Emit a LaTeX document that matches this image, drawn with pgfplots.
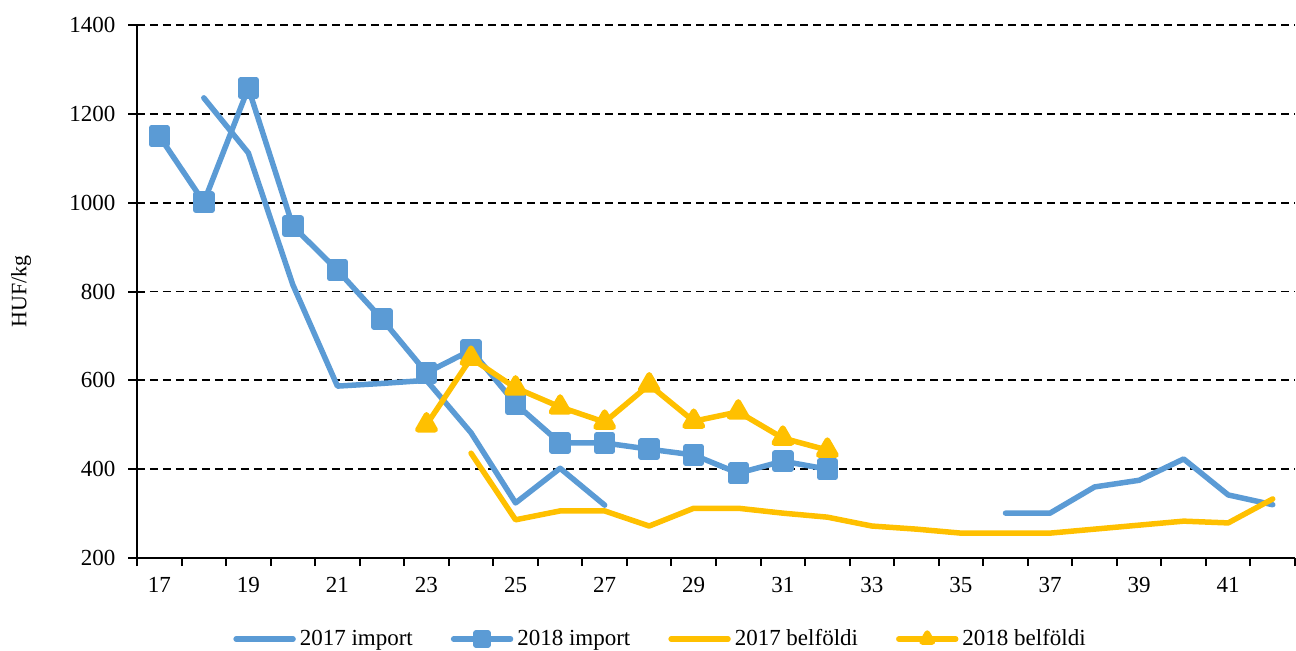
\documentclass[border=0pt]{standalone}
\usepackage{fontspec}
\setmainfont{Liberation Serif}
\usepackage{pgfplots}
\pgfplotsset{compat=1.18}

\definecolor{impblue}{HTML}{5B9BD5}
\definecolor{belyellow}{HTML}{FFC000}

\begin{document}
\begin{tikzpicture}
\begin{axis}[
    at={(0,0)}, anchor=south west,
    scale only axis,
    width=579pt, height=266.5pt,
    xmin=16.5, xmax=42.5,
    ymin=200, ymax=1400,
    ytick=\empty,
    extra y ticks={200,400,...,1400},
    extra y tick style={major tick length=8.5pt, tick align=center, grid=major,
        tick label style={xshift=-3pt}},
    xtick={16.5,17.5,...,42.5},
    xticklabels={},
    extra x ticks={17,19,...,41},
    extra x tick style={major tick length=0pt, grid=none,
        tick label style={yshift=-6pt}},
    axis x line*=bottom, axis y line*=left,
    axis line style={-, line width=1pt, black},
    tick style={line width=1pt, black},
    tick align=outside,
    major tick length=4pt,
    grid style={black, line width=0.9pt, dash pattern=on 4pt off 2.5pt},
    /pgf/number format/assume math mode=true,
    /pgf/number format/1000 sep={},
    tick label style={font=\fontsize{11.5}{13}\selectfont},
    every axis y label/.style={at={(axis description cs:0,0.5)}, xshift=-58pt, rotate=90, anchor=center},
    ylabel={HUF/kg},
    ylabel style={font=\fontsize{11}{13}\selectfont},
    unbounded coords=jump,
    every axis plot/.append style={line width=2.75pt, line cap=round, line join=round},
    legend columns=4,
    legend style={at={(axis description cs:0.453,-0.152)}, anchor=center, draw=none,
        font=\fontsize{11.5}{13}\selectfont,
        /tikz/every even column/.append style={column sep=17pt}},
    legend image code/.code={\draw[mark repeat=2, mark phase=2, #1, mark size=3pt]
        plot coordinates {(0cm,0cm) (0.5cm,0cm) (1cm,0cm)};},
]
% 2017 import
\addplot[impblue, mark=none] coordinates {
 (18,1236) (19,1112) (20,815) (21,587) (22,593) (23,600) (24,482) (25,324) (26,402) (27,319)
 (28,nan) (29,nan) (30,nan) (31,nan) (32,nan) (33,nan) (34,nan) (35,nan)
 (36,301) (37,301) (38,360) (39,375) (40,423) (41,342) (42,320)
};
% 2018 import
\addplot[impblue, mark=square*, mark size=4pt, mark options={solid, fill=impblue}] coordinates {
 (17,1150) (18,1001) (19,1258) (20,947) (21,848) (22,738) (23,617) (24,668) (25,547)
 (26,459) (27,459) (28,445) (29,432) (30,391) (31,418) (32,400)
};
% 2017 belfoldi
\addplot[belyellow, mark=none] coordinates {
 (24,436) (25,286) (26,306) (27,306) (28,272) (29,312) (30,312) (31,301) (32,292)
 (33,272) (34,265) (35,256) (36,256) (37,256) (38,265) (39,274) (40,283) (41,279) (42,333)
};
% 2018 belfoldi
\addplot[belyellow, mark=triangle*, mark size=5pt, mark options={solid, fill=belyellow}] coordinates {
 (23,500) (24,650) (25,583) (26,540) (27,506) (28,590) (29,508) (30,529) (31,470) (32,443)
};
\legend{2017 import, 2018 import, 2017 belföldi, 2018 belföldi}
\end{axis}
\pgfresetboundingbox
\path[use as bounding box] (-68.5pt,-46pt) rectangle (579.5pt,279pt);
\end{tikzpicture}
\end{document}
